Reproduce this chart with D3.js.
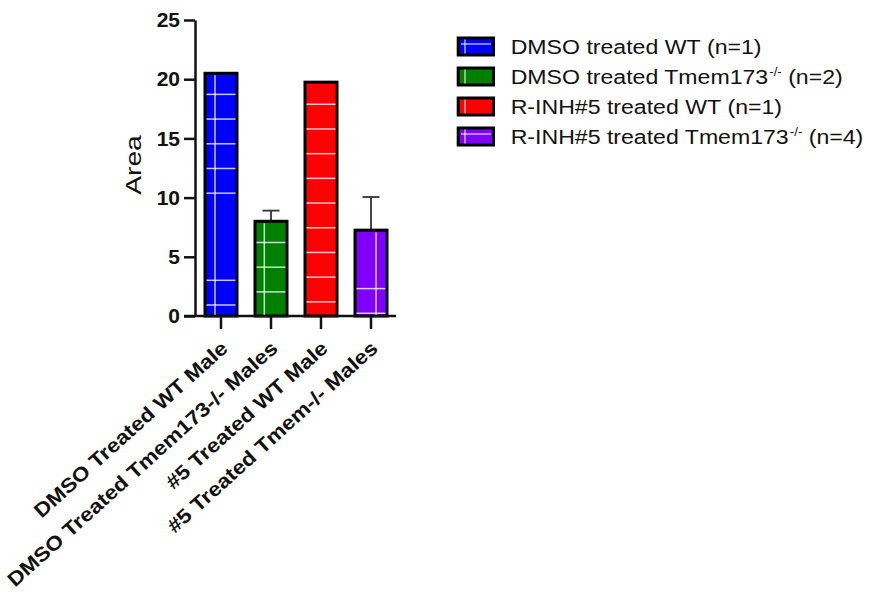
<!DOCTYPE html>
<html>
<head>
<meta charset="utf-8">
<script src="https://cdn.jsdelivr.net/npm/d3@7"></script>
<style>
  body { margin: 0; background: #fff; }
  svg { display: block; }
</style>
</head>
<body>
<svg id="chart" width="882" height="597"></svg>
<script>
// ---- data ----
const categories = [
  "DMSO Treated WT Male",
  "DMSO Treated Tmem173-/- Males",
  "#5 Treated WT Male",
  "#5 Treated Tmem-/- Males"
];
const means = [20.5, 8.0, 19.75, 7.25];
const errors = [0, 0.9, 0, 2.8];
const yTicks = [0, 5, 10, 15, 20, 25];
const yTitle = "Area";

const legendMain = ["DMSO treated WT", "DMSO treated Tmem173", "R-INH#5 treated WT", "R-INH#5 treated Tmem173"];
const legendSup = ["", "-/-", "", "-/-"];
const legendTail = [" (n=1)", " (n=2)", " (n=1)", " (n=4)"];

// ---- styling ----
const barColors = ["#0000ff", "#008000", "#ff0000", "#7f00ff"];
const FONT = "'Liberation Sans', Arial, sans-serif";
const INK = "#111";
// white fill-pattern strokes per bar: vertical offset from bar's left edge,
// and runs of horizontal strokes measured from the top / bottom edge
const hatchStep = 24.7;
const hatch = [
  { vx: 11.5, top: [22.6, 5], bottom: [11, 2] },
  { vx: 10.8, top: [22.7, 3], bottom: null },
  { vx: null, top: [23.6, 9], bottom: null },
  { vx: 22.5, top: null, bottom: [2.7, 2] }
];
const legendHatch = [
  { v: true, h: true }, { v: true, h: false }, { v: true, h: false }, { v: true, h: true }
];
const hatchColor = "rgba(255,255,255,0.78)";

const svg = d3.select("#chart");

const x = d3.scaleBand().domain(categories).range([196, 396])
  .paddingInner(0.3).paddingOuter(0.15);
const y = d3.scaleLinear().domain([0, 25]).range([316, 20]);
const bw = x.bandwidth();

// ---- error bars (upper only) ----
const eb = svg.append("g").attr("stroke", "#333").attr("stroke-width", 1.8);
categories.forEach((c, i) => {
  if (!errors[i]) return;
  const cx = x(c) + bw / 2;
  const y0 = y(means[i]), y1 = y(means[i] + errors[i]);
  eb.append("line").attr("x1", cx).attr("x2", cx).attr("y1", y0).attr("y2", y1);
  eb.append("line").attr("x1", cx - 8.5).attr("x2", cx + 8.5).attr("y1", y1).attr("y2", y1);
});

// ---- bars ----
const bars = svg.append("g");
categories.forEach((c, i) => {
  const bx = x(c), top = y(means[i]), base = y(0);
  bars.append("rect")
    .attr("x", bx + 1.5).attr("y", top)
    .attr("width", bw - 3).attr("height", base - top)
    .attr("fill", barColors[i]).attr("stroke", "#000").attr("stroke-width", 3);
  const hg = bars.append("g").attr("stroke", hatchColor).attr("stroke-width", 1.5);
  const h = hatch[i];
  const outerTop = top - 1.5;
  const hline = yy => hg.append("line").attr("x1", bx + 3).attr("x2", bx + bw - 3).attr("y1", yy).attr("y2", yy);
  if (h.top) for (let k = 0; k < h.top[1]; k++) hline(outerTop + h.top[0] + k * hatchStep);
  if (h.bottom) for (let k = 0; k < h.bottom[1]; k++) hline(base - h.bottom[0] - k * hatchStep);
  if (h.vx != null) hg.append("line").attr("x1", bx + h.vx).attr("x2", bx + h.vx)
    .attr("y1", top + 2).attr("y2", base - 1);
});

// ---- y axis ----
const gy = svg.append("g").attr("transform", "translate(195,0)")
  .call(d3.axisLeft(y).tickValues(yTicks).tickSize(11).tickSizeOuter(0).tickPadding(4));
gy.select(".domain").attr("stroke", INK).attr("stroke-width", 2.5);
gy.selectAll(".tick line").attr("stroke", INK).attr("stroke-width", 2.5);
gy.selectAll(".tick text").attr("font-family", FONT).attr("font-weight", "bold")
  .attr("font-size", 21).attr("fill", INK);

svg.append("text")
  .attr("transform", "translate(140.5,165) rotate(-90) scale(1.25,1)")
  .attr("text-anchor", "middle").attr("font-family", FONT).attr("font-size", 22.5)
  .attr("fill", INK).text(yTitle);

// ---- x axis ----
const gx = svg.append("g").attr("transform", "translate(0,316)")
  .call(d3.axisBottom(x).tickSize(13).tickSizeOuter(0));
gx.select(".domain").remove();
gx.append("line").attr("x1", 184).attr("x2", 396).attr("y1", 0).attr("y2", 0)
  .attr("stroke", INK).attr("stroke-width", 2.5);
gx.selectAll(".tick line").attr("stroke", INK).attr("stroke-width", 2.5);
gx.selectAll(".tick text")
  .attr("y", null).attr("dy", null)
  .attr("text-anchor", "end")
  .attr("transform", "translate(8,34) rotate(-42) scale(1.13,1)")
  .attr("font-family", FONT).attr("font-weight", "bold").attr("font-size", 20)
  .attr("fill", INK);

// ---- legend ----
const lg = svg.append("g");
legendMain.forEach((lab, i) => {
  const g = lg.append("g").attr("transform", `translate(0,${46.5 + i * 30})`);
  g.append("rect").attr("x", 458.2).attr("y", -8.5).attr("width", 35.3).attr("height", 17)
    .attr("fill", barColors[i]).attr("stroke", "#000").attr("stroke-width", 3);
  const hs = legendHatch[i];
  if (hs.v) g.append("line").attr("x1", 465).attr("x2", 465).attr("y1", -7).attr("y2", 7)
    .attr("stroke", hatchColor).attr("stroke-width", 1.3);
  if (hs.h) g.append("line").attr("x1", 461).attr("x2", 491).attr("y1", -2.5).attr("y2", -2.5)
    .attr("stroke", hatchColor).attr("stroke-width", 1.3);
  const t = g.append("text")
    .attr("transform", "translate(510.7,7) scale(1.1,1)")
    .attr("font-family", FONT).attr("font-size", 21).attr("fill", INK);
  t.append("tspan").text(lab);
  if (legendSup[i]) {
    t.append("tspan").attr("dy", -8).attr("dx", 1).attr("font-size", 12).text(legendSup[i]);
    t.append("tspan").attr("dy", 8).text(legendTail[i]);
  } else {
    t.append("tspan").text(legendTail[i]);
  }
});
</script>
</body>
</html>
